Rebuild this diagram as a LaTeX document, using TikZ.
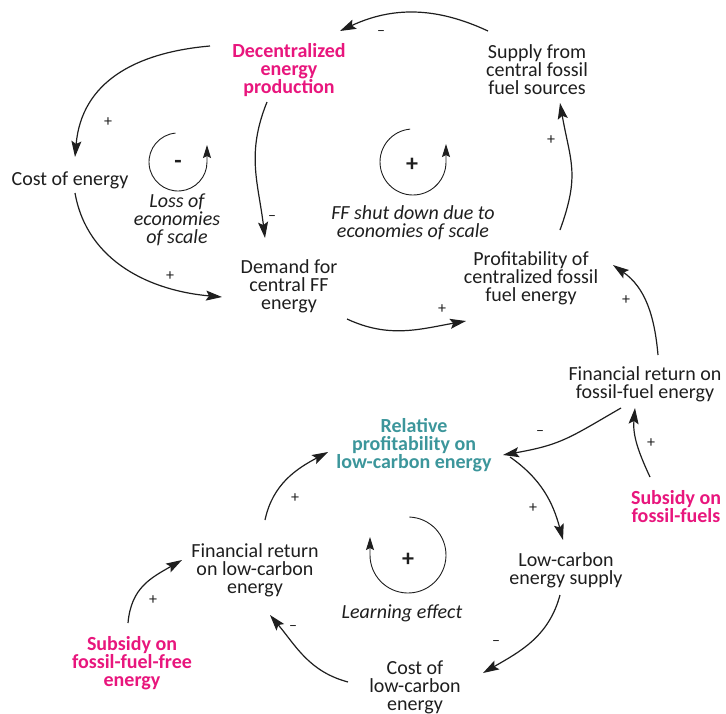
\documentclass[tikz,border=0pt]{standalone}
\usepackage{fontspec}
\setmainfont{Carlito}
\usetikzlibrary{arrows.meta,calc}
\definecolor{policypink}{RGB}{232,22,125}
\definecolor{relteal}{RGB}{60,150,155}
\definecolor{inkgray}{RGB}{30,30,30}

\begin{document}
\begin{tikzpicture}[x=1pt,y=1pt,
  var/.style={align=center, inner sep=0pt, text=inkgray,
    font=\fontsize{20}{18}\selectfont},
  policy/.style={var, text=policypink,
    font=\fontsize{20}{18}\selectfont\bfseries},
  relvar/.style={var, text=relteal,
    font=\fontsize{20}{18}\selectfont\bfseries},
  loopname/.style={var, font=\fontsize{20}{18}\selectfont\itshape},
  polarity/.style={inner sep=0pt, text=inkgray, font=\fontsize{16}{16}\selectfont},
  loopsign/.style={inner sep=0pt, text=inkgray, font=\fontsize{24}{24}\selectfont\bfseries},
  link/.style={draw=inkgray, line width=1.2pt,
    -{Stealth[length=16pt,width=10pt,inset=3pt]}},
  loopline/.style={draw=inkgray, line width=0.9pt,
    -{Stealth[length=13pt,width=8pt,inset=2pt]}}
]
\path[use as bounding box] (0,0) rectangle (726,-713);

% ---- variables ----
\node[policy] (dec) at (289,-70) {Decentralized\\energy\\production};
\node[var] (sup) at (537,-70) {Supply from\\central fossil\\fuel sources};
\node[var] (cost) at (70,-180) {Cost of energy};
\node[var] (dem) at (289,-286) {Demand for\\central FF\\energy};
\node[var] (prof) at (531,-278) {Profitability of\\centralized fossil\\fuel energy};
\node[var] (finff) at (645,-384) {Financial return on\\fossil-fuel energy};
\node[relvar] (rel) at (414,-445) {Relative\\profitability on\\low-carbon energy};
\node[policy] (subff) at (676,-507) {Subsidy on\\fossil-fuels};
\node[var] (lcs) at (566,-570) {Low-carbon\\energy supply};
\node[var] (costlc) at (415,-687) {Cost of\\low-carbon\\energy};
\node[var] (finlc) at (255,-570) {Financial return\\on low-carbon\\energy};
\node[policy] (subfree) at (132,-663) {Subsidy on\\fossil-fuel-free\\energy};

% ---- loop names ----
\node[loopname] (lossname) at (177,-220) {Loss of\\economies\\of scale};
\node[loopname] (ffname) at (413,-223) {FF shut down due to\\economies of scale};
\node[loopname] (learnname) at (402,-613) {Learning effect};

% ---- loop markers ----
\node[loopsign] (lossign) at (178,-164) {-};
\draw[loopline] (178,-162) ++(95:29) arc[start angle=95, end angle=360, radius=29] -- ++(0,17);
\node[loopsign] (ffsign) at (412,-165) {+};
\draw[loopline] (413,-162) ++(95:33) arc[start angle=95, end angle=360, radius=33] -- ++(0,18);
\node[loopsign] (learnsign) at (408,-560) {+};
\draw[loopline] (408,-555) ++(88:38) arc[start angle=88, end angle=-180, radius=38] -- ++(0,18);

% ---- causal links ----
\draw[link] ($(sup)+(-49,39)$) to[out=155,in=25] ($(dec)+(51,39)$);
\draw[link] ($(dec)+(-79,24)$) to[out=185,in=85,looseness=1.1] ($(cost)+(5,23)$);
\draw[link] ($(dec)+(-22,-32)$) to[out=248,in=97,looseness=1.05] ($(dem)+(-24,48)$);
\draw[link] ($(cost)+(5,-13)$) to[out=280,in=175] ($(dem)+(-67,-11)$);
\draw[link] ($(dem)+(58,-33)$) to[out=-25,in=190] ($(prof)+(-65,-43)$);
\draw[link] ($(prof)+(29,48)$) to[out=70,in=-80,looseness=1.2] ($(sup)+(23,-33)$);
\draw[link] ($(finff)+(13,29)$) to[out=95,in=-35] ($(prof)+(82,13)$);
\draw[link] ($(finff)+(-24,-24)$) to[out=210,in=10,looseness=1.2] ($(rel)+(89,-10)$);
\draw[link] ($(subff)+(-26,30)$) to[out=115,in=265] ($(finff)+(-10,-24)$);
\draw[link] ($(rel)+(96,-12)$) to[out=-35,in=105] ($(lcs)+(-3,30)$);
\draw[link] ($(lcs)+(-6,-25)$) to[out=255,in=30] ($(costlc)+(68,14)$);
\draw[link] ($(costlc)+(-67,5)$) to[out=165,in=-50] ($(finlc)+(15,-45)$);
\draw[link] ($(finlc)+(10,50)$) to[out=78,in=208] ($(rel)+(-86,-7)$);
\draw[link] ($(subfree)+(-4,40)$) to[out=85,in=210,looseness=1.1] ($(finlc)+(-73,10)$);

% ---- link polarities ----
\node[polarity] (pol1) at (381,-33) {–};
\node[polarity] (pol2) at (108,-122) {+};
\node[polarity] (pol3) at (272,-218) {–};
\node[polarity] (pol4) at (170,-276) {+};
\node[polarity] (pol5) at (442,-309) {+};
\node[polarity] (pol6) at (551,-140) {+};
\node[polarity] (pol7) at (626,-300) {+};
\node[polarity] (pol8) at (540,-433) {–};
\node[polarity] (pol9) at (651,-443) {+};
\node[polarity] (pol10) at (533,-508) {+};
\node[polarity] (pol11) at (496,-643) {–};
\node[polarity] (pol12) at (293,-628) {–};
\node[polarity] (pol13) at (295,-498) {+};
\node[polarity] (pol14) at (153,-600) {+};
\end{tikzpicture}
\end{document}
